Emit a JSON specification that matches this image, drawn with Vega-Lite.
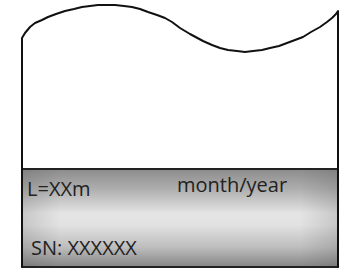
{
  "$schema": "https://vega.github.io/schema/vega-lite/v6.json",
  "width": 351,
  "height": 271,
  "autosize": {"type": "fit", "contains": "padding"},
  "padding": 0,
  "background": "white",
  "config": {"view": {"stroke": null}},
  "datasets": {
    "outline": [
      {"i": 0, "x": 22, "y": 267},
      {"i": 1, "x": 22, "y": 38},
      {"i": 2, "x": 25, "y": 33},
      {"i": 3, "x": 30, "y": 27},
      {"i": 4, "x": 35, "y": 23},
      {"i": 5, "x": 42, "y": 20},
      {"i": 6, "x": 48, "y": 17},
      {"i": 7, "x": 56, "y": 14},
      {"i": 8, "x": 65, "y": 11},
      {"i": 9, "x": 74, "y": 9},
      {"i": 10, "x": 82, "y": 7},
      {"i": 11, "x": 90, "y": 6},
      {"i": 12, "x": 98, "y": 5},
      {"i": 13, "x": 106, "y": 5},
      {"i": 14, "x": 115, "y": 5},
      {"i": 15, "x": 124, "y": 6},
      {"i": 16, "x": 132, "y": 7},
      {"i": 17, "x": 140, "y": 9},
      {"i": 18, "x": 148, "y": 12},
      {"i": 19, "x": 157, "y": 15},
      {"i": 20, "x": 165, "y": 18},
      {"i": 21, "x": 172, "y": 22},
      {"i": 22, "x": 180, "y": 28},
      {"i": 23, "x": 190, "y": 34},
      {"i": 24, "x": 203, "y": 41},
      {"i": 25, "x": 212, "y": 45},
      {"i": 26, "x": 220, "y": 48},
      {"i": 27, "x": 228, "y": 50},
      {"i": 28, "x": 237, "y": 51},
      {"i": 29, "x": 245, "y": 52},
      {"i": 30, "x": 253, "y": 51},
      {"i": 31, "x": 262, "y": 50},
      {"i": 32, "x": 270, "y": 48},
      {"i": 33, "x": 279, "y": 46},
      {"i": 34, "x": 287, "y": 43},
      {"i": 35, "x": 295, "y": 40},
      {"i": 36, "x": 303, "y": 37},
      {"i": 37, "x": 311, "y": 32},
      {"i": 38, "x": 320, "y": 27},
      {"i": 39, "x": 327, "y": 22},
      {"i": 40, "x": 332, "y": 18},
      {"i": 41, "x": 336, "y": 14},
      {"i": 42, "x": 338, "y": 11},
      {"i": 43, "x": 338, "y": 267}
    ],
    "band": [{"x1": 22, "x2": 338, "y1": 169, "y2": 267}],
    "labels": [
      {"label": "L=XXm", "x": 27, "y": 196},
      {"label": "month/year", "x": 177, "y": 192},
      {"label": "SN: XXXXXX", "x": 31, "y": 255}
    ]
  },
  "layer": [
    {
      "data": {"name": "band"},
      "mark": {
        "type": "rect",
        "color": {
          "gradient": "linear", "x1": 0, "y1": 0, "x2": 0, "y2": 1,
          "stops": [
            {"offset": 0, "color": "#8c8c8c"},
            {"offset": 0.2, "color": "#adadad"},
            {"offset": 0.45, "color": "#e4e4e4"},
            {"offset": 0.57, "color": "#e2e2e2"},
            {"offset": 0.8, "color": "#bdbdbd"},
            {"offset": 1, "color": "#858585"}
          ]
        }
      },
      "encoding": {
        "x": {"field": "x1", "type": "quantitative", "scale": {"domain": [0, 351]}, "axis": null},
        "x2": {"field": "x2"},
        "y": {"field": "y1", "type": "quantitative", "scale": {"domain": [0, 271], "reverse": true}, "axis": null},
        "y2": {"field": "y2"}
      }
    },
    {
      "data": {"name": "band"},
      "mark": {
        "type": "rect",
        "stroke": "#222222",
        "strokeWidth": 2,
        "color": {
          "gradient": "linear", "x1": 0, "y1": 0, "x2": 1, "y2": 0,
          "stops": [
            {"offset": 0, "color": "rgba(70,70,70,0.18)"},
            {"offset": 0.12, "color": "rgba(70,70,70,0)"},
            {"offset": 0.88, "color": "rgba(70,70,70,0)"},
            {"offset": 1, "color": "rgba(70,70,70,0.18)"}
          ]
        }
      },
      "encoding": {
        "x": {"field": "x1", "type": "quantitative", "scale": {"domain": [0, 351]}, "axis": null},
        "x2": {"field": "x2"},
        "y": {"field": "y1", "type": "quantitative", "scale": {"domain": [0, 271], "reverse": true}, "axis": null},
        "y2": {"field": "y2"}
      }
    },
    {
      "data": {"name": "outline"},
      "mark": {"type": "line", "color": "#111111", "strokeWidth": 2, "strokeJoin": "round"},
      "encoding": {
        "x": {"field": "x", "type": "quantitative", "scale": {"domain": [0, 351]}, "axis": null},
        "y": {"field": "y", "type": "quantitative", "scale": {"domain": [0, 271], "reverse": true}, "axis": null},
        "order": {"field": "i", "type": "quantitative"}
      }
    },
    {
      "data": {"name": "labels"},
      "mark": {"type": "text", "align": "left", "baseline": "alphabetic", "font": "Open Sans", "fontSize": 20, "color": "#222222"},
      "encoding": {
        "x": {"field": "x", "type": "quantitative", "scale": {"domain": [0, 351]}, "axis": null},
        "y": {"field": "y", "type": "quantitative", "scale": {"domain": [0, 271], "reverse": true}, "axis": null},
        "text": {"field": "label"}
      }
    }
  ]
}
